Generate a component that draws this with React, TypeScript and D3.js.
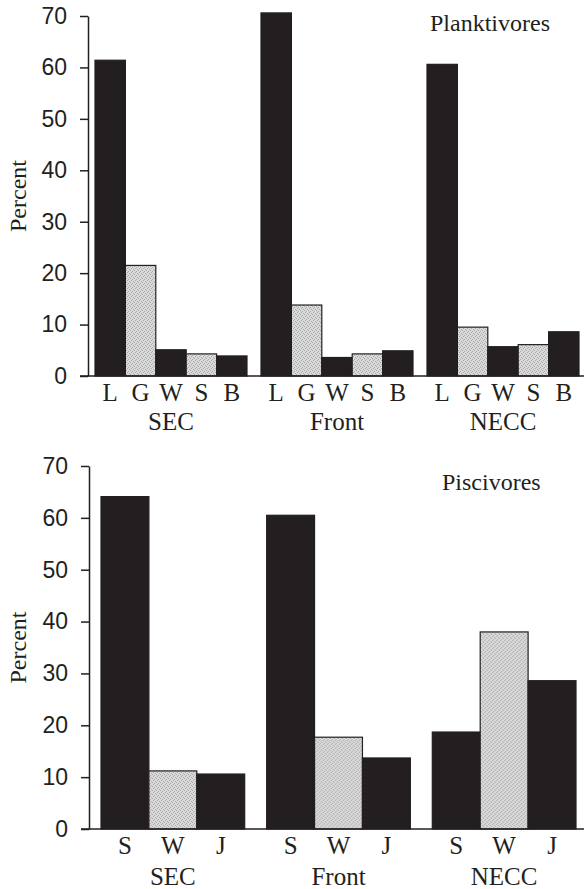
import React, { useEffect, useRef } from "react";
import * as d3 from "d3";

// top panel
const planktGroups = ["SEC", "Front", "NECC"];
const planktCats = ["L", "G", "W", "S", "B"];
const planktSEC = [61.4, 21.5, 5.1, 4.3, 3.9];
const planktFront = [70.6, 13.8, 3.6, 4.3, 4.9];
const planktNECC = [60.6, 9.5, 5.7, 6.1, 8.6];

// bottom panel
const pisciGroups = ["SEC", "Front", "NECC"];
const pisciCats = ["S", "W", "J"];
const pisciSEC = [64.1, 11.2, 10.6];
const pisciFront = [60.5, 17.7, 13.7];
const pisciNECC = [18.7, 38.0, 28.6];

const yTicks = [0, 10, 20, 30, 40, 50, 60, 70];

const width = 584;
const height = 889;
const ink = "#231f20";
const serif = "'Liberation Serif', 'Times New Roman', serif";
const sans = "'Liberation Sans', Arial, sans-serif";

const App = () => {
  const svgRef = useRef<SVGSVGElement>(null);

  useEffect(() => {
    const svg = d3.select(svgRef.current);
    svg.selectAll("*").remove();

    // stippled grey fill
    const pat = svg
      .append("defs")
      .append("pattern")
      .attr("id", "stipple")
      .attr("width", 4)
      .attr("height", 4)
      .attr("patternUnits", "userSpaceOnUse");
    pat.append("rect").attr("width", 4).attr("height", 4).attr("fill", "#dadada");
    [[0, 0], [2, 1], [1, 3], [3, 2]].forEach(([px, py]) =>
      pat.append("rect").attr("x", px).attr("y", py).attr("width", 1).attr("height", 1).attr("fill", "#a8a8a8")
    );

    const panels = [
      {
        groups: planktGroups,
        cats: planktCats,
        values: [planktSEC, planktFront, planktNECC],
        title: "Planktivores",
        titleX: 430,
        titleY: 31,
        xRange: [95, 579],
        padding: 14 / 166,
        yRange: [376, 16],
        catY: 401,
        groupY: 430,
        axisX: 88,
      },
      {
        groups: pisciGroups,
        cats: pisciCats,
        values: [pisciSEC, pisciFront, pisciNECC],
        title: "Piscivores",
        titleX: 442,
        titleY: 490,
        xRange: [101, 576],
        padding: 22 / 166,
        yRange: [829, 466],
        catY: 854,
        groupY: 885,
        axisX: 89,
      },
    ];

    panels.forEach((p) => {
      const g = svg.append("g");

      const x0 = d3.scaleBand().domain(p.groups).range(p.xRange).paddingInner(p.padding);
      const x1 = d3.scaleBand().domain(p.cats).range([0, x0.bandwidth()]);
      const y = d3.scaleLinear().domain([0, 70]).range(p.yRange);

      // bars
      p.groups.forEach((grp, gi) => {
        const gg = g.append("g").attr("transform", `translate(${x0(grp)},0)`);
        gg.selectAll("rect")
          .data(p.values[gi])
          .join("rect")
          .attr("x", (_d, i) => x1(p.cats[i]))
          .attr("y", (d) => y(d))
          .attr("width", x1.bandwidth())
          .attr("height", (d) => y(0) - y(d))
          .attr("fill", (_d, i) => (i % 2 === 0 ? ink : "url(#stipple)"))
          .attr("stroke", ink)
          .attr("stroke-width", 1.2);

        gg.selectAll("text")
          .data(p.cats)
          .join("text")
          .attr("x", (d) => x1(d) + x1.bandwidth() / 2)
          .attr("y", p.catY)
          .attr("text-anchor", "middle")
          .attr("font-family", serif)
          .attr("font-size", 25)
          .attr("fill", ink)
          .text((d) => d);

        g.append("text")
          .attr("x", x0(grp) + x0.bandwidth() / 2)
          .attr("y", p.groupY)
          .attr("text-anchor", "middle")
          .attr("font-family", serif)
          .attr("font-size", 25)
          .attr("fill", ink)
          .text(grp);
      });

      // y axis
      const ax = g
        .append("g")
        .attr("transform", `translate(${p.axisX},0)`)
        .call(d3.axisLeft(y).tickValues(yTicks).tickSize(8).tickSizeOuter(0).tickPadding(13));
      ax.select(".domain").attr("stroke", ink).attr("stroke-width", 1.5);
      ax.selectAll(".tick line").attr("stroke", ink).attr("stroke-width", 1.5);
      ax.selectAll(".tick text")
        .attr("font-family", sans)
        .attr("font-size", 23)
        .attr("fill", ink);

      // baseline
      g.append("line")
        .attr("x1", p.axisX - 8)
        .attr("x2", 584)
        .attr("y1", y(0))
        .attr("y2", y(0))
        .attr("stroke", ink)
        .attr("stroke-width", 1.5);

      g.append("text")
        .attr("transform", `translate(26,${(p.yRange[0] + p.yRange[1]) / 2}) rotate(-90)`)
        .attr("text-anchor", "middle")
        .attr("font-family", serif)
        .attr("font-size", 24)
        .attr("fill", ink)
        .text("Percent");

      g.append("text")
        .attr("x", p.titleX)
        .attr("y", p.titleY)
        .attr("font-family", serif)
        .attr("font-size", 24)
        .attr("fill", ink)
        .text(p.title);
    });
  }, []);

  return (
    <svg
      ref={svgRef}
      width={width}
      height={height}
      style={{ position: "absolute", left: 0, top: 0, background: "#fff" }}
    ></svg>
  );
};

export default App;
